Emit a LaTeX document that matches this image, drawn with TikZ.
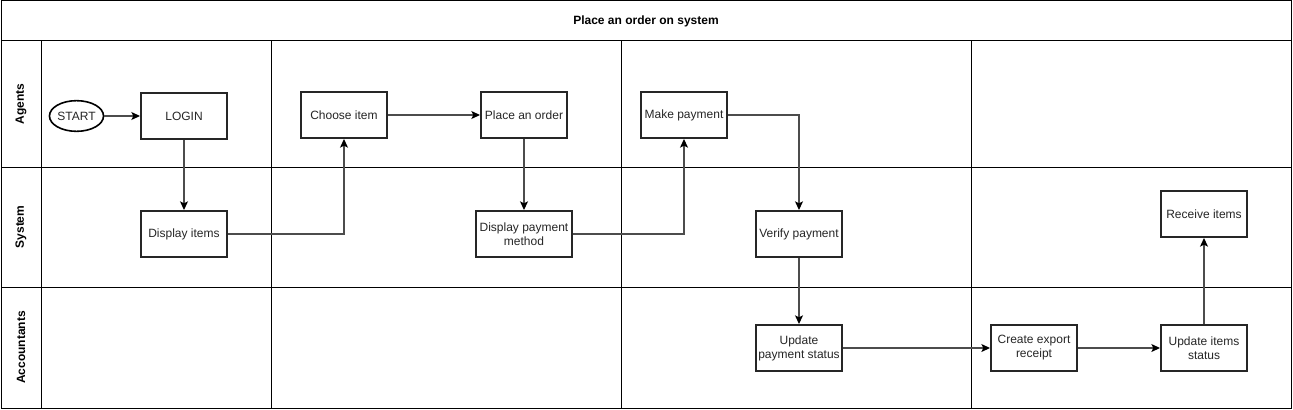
\documentclass[tikz,border=0pt]{standalone}
\usepackage{fontspec}
\setmainfont{Liberation Sans}
\usetikzlibrary{arrows.meta,shapes.geometric}
\begin{document}
\begin{tikzpicture}[x=0.75pt,y=-0.75pt,
  font=\fontsize{9}{10.5}\selectfont,
  lane/.style={draw=black,line width=0.75pt},
  box/.style={draw=black!85,line width=1.5pt,fill=white,minimum width=64.5pt,minimum height=34.5pt,inner sep=1pt,align=center,text=black!85},
  term/.style={draw=black,line width=1.2pt,ellipse,fill=white,minimum width=37pt,minimum height=23pt,inner sep=0pt,text=black!85},
  conn/.style={draw=black!70,line width=0.8pt,-{Stealth[length=6.5pt,width=6pt,inset=1.5pt,fill=black,color=black]}},
  lbl/.style={font=\fontsize{9}{10.5}\selectfont\bfseries,rotate=90}]
\useasboundingbox (0,0) rectangle (1293,410);
% frame and lanes
\draw[lane] (1,1) rectangle (1291,408);
\draw[lane] (1,41) -- (1291,41);
\draw[lane] (1,167) -- (1291,167);
\draw[lane] (1,287) -- (1291,287);
\draw[lane] (41,41) -- (41,408);
\draw[lane] (271,41) -- (271,408);
\draw[lane] (621,41) -- (621,408);
\draw[lane] (971,41) -- (971,408);
\node[font=\fontsize{9}{10.5}\selectfont\bfseries] (title) at (646,21) {Place an order on system};
\node[lbl] (lagents) at (21,104) {Agents};
\node[lbl] (lsystem) at (21,227) {System};
\node[lbl] (lacc) at (21,347.5) {Accountants};
% nodes
\node[term] (start) at (76.5,116) {START};
\node[box] (login) at (184,116) {LOGIN};
\node[box] (disp) at (184,234) {Display items};
\node[box] (choose) at (344,115) {Choose item};
\node[box] (order) at (524,115) {Place an order};
\node[box,minimum width=72pt] (dpm) at (524,234) {Display payment\\method};
\node[box] (make) at (684,115) {Make payment};
\node[box] (verify) at (799,234) {Verify payment};
\node[box] (ups) at (799,348) {Update\\payment status};
\node[box] (cer) at (1034,348) {Create export\\receipt};
\node[box] (uis) at (1204,348) {Update items\\status};
\node[box] (recv) at (1204,214) {Receive items};
% connectors
\draw[conn] (start) -- (login);
\draw[conn] (login) -- (disp);
\draw[conn] (disp.east) -| (choose.south);
\draw[conn] (choose) -- (order);
\draw[conn] (order) -- (dpm);
\draw[conn] (dpm.east) -| (make.south);
\draw[conn] (make.east) -| (verify.north);
\draw[conn] (verify) -- (ups);
\draw[conn] (ups) -- (cer);
\draw[conn] (cer) -- (uis);
\draw[conn] (uis) -- (recv);
\end{tikzpicture}
\end{document}
